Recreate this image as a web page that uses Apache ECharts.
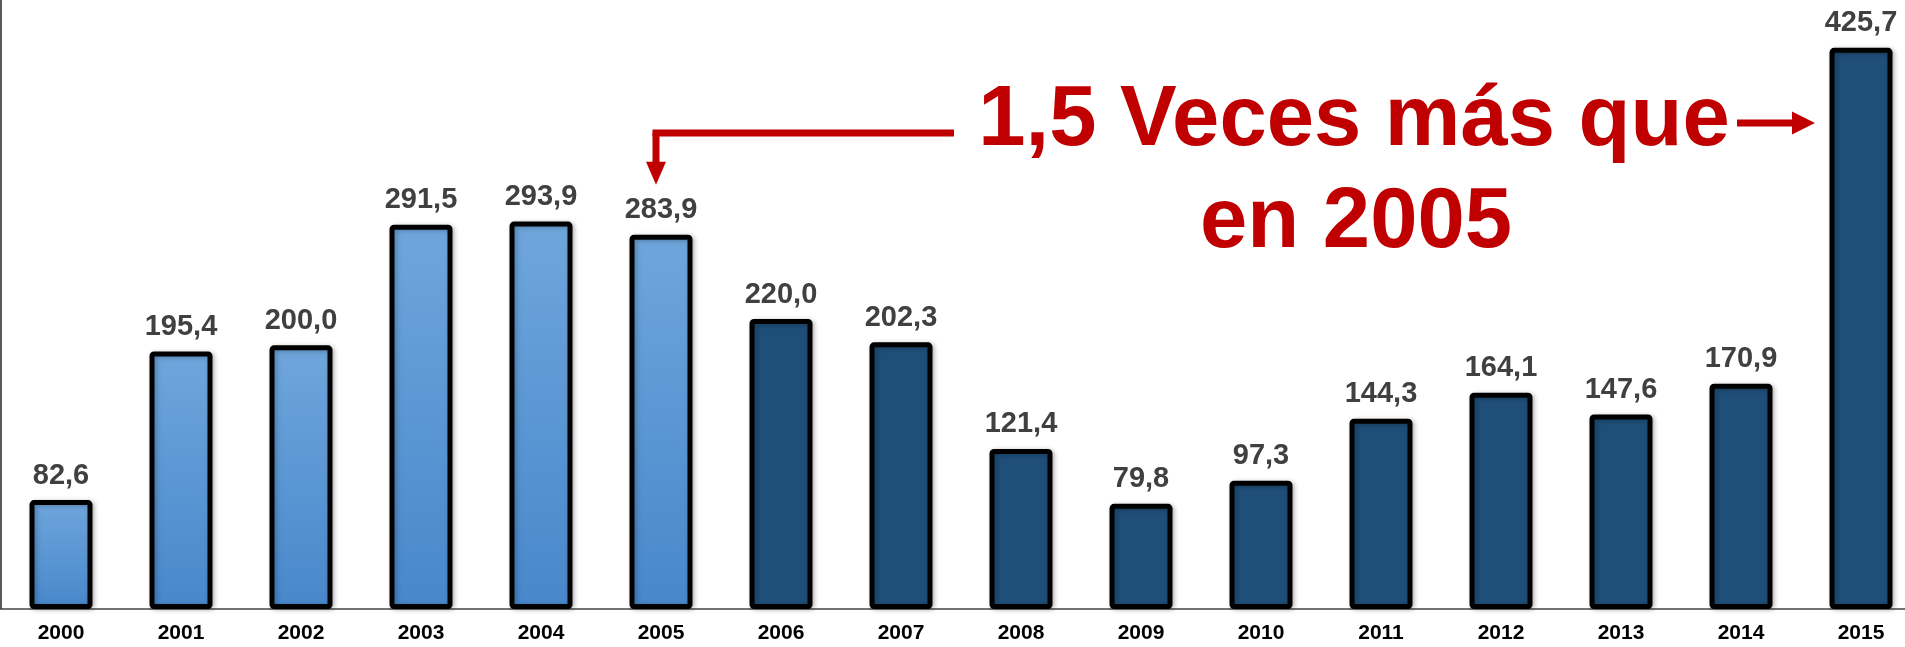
<!DOCTYPE html>
<html>
<head>
<meta charset="utf-8">
<script src="https://cdn.jsdelivr.net/npm/echarts@6/dist/echarts.min.js"></script>
<style>
html,body{margin:0;padding:0;background:#fff;}
#c{width:1905px;height:647px;}
</style>
</head>
<body>
<div id="c"></div>
<script>
// ---- data ----
const years = ['2000','2001','2002','2003','2004','2005','2006','2007','2008','2009','2010','2011','2012','2013','2014','2015'];
const values = [82.6,195.4,200.0,291.5,293.9,283.9,220.0,202.3,121.4,79.8,97.3,144.3,164.1,147.6,170.9,425.7];
const lastLightYear = '2005';
const noteLine1 = '1,5 Veces más que';
const noteLine2 = 'en 2005';
const noteFrom = '2005';
const noteTo = '2015';

// ---- style ----
const lightFill = new echarts.graphic.LinearGradient(0,0,0,1,[{offset:0,color:'#6fa6dc'},{offset:1,color:'#4787cb'}]);
const darkFill = '#1f4e78';
const red = '#c00000';

const chart = echarts.init(document.getElementById('c'), null, {renderer:'canvas'});

const lightIdx = years.indexOf(lastLightYear);
const barData = values.map((v,i)=>({
  value:v,
  itemStyle:{color: i<=lightIdx ? lightFill : darkFill}
}));

chart.setOption({
  animation:false,
  grid:{left:1,width:1920,top:0,bottom:38,containLabel:false,outerBoundsMode:'none'},
  xAxis:{
    type:'category',
    data:years,
    axisLine:{show:true,lineStyle:{color:'#444',width:1.5}},
    axisTick:{show:false},
    axisLabel:{color:'#000',fontFamily:'Liberation Sans, Arial, sans-serif',fontWeight:'bold',fontSize:21,margin:14,interval:0}
  },
  yAxis:{
    type:'value',min:0,max:462,
    axisLine:{show:true,lineStyle:{color:'#222',width:1.5}},
    axisLabel:{show:false},axisTick:{show:false},splitLine:{show:false}
  },
  series:[{
    type:'bar',
    data:barData,
    barWidth:63,
    itemStyle:{borderColor:'#000',borderWidth:5,borderRadius:2,shadowBlur:5,shadowColor:'rgba(0,0,0,0.25)',shadowOffsetX:2,shadowOffsetY:1},
    label:{
      show:true,position:'top',distance:10,
      color:'#404040',fontFamily:'Liberation Sans, Arial, sans-serif',fontWeight:'bold',fontSize:29,
      formatter:p=>p.value.toFixed(1).replace('.',',')
    }
  }]
});

// ---- annotation anchored to bars ----
const pFrom = chart.convertToPixel({xAxisIndex:0,yAxisIndex:0},[noteFrom, values[years.indexOf(noteFrom)]]);
const pTo = chart.convertToPixel({xAxisIndex:0,yAxisIndex:0},[noteTo, values[years.indexOf(noteTo)]]);

const lax = pFrom[0]-5;           // left arrow vertical x
const lay = 133;                  // left arrow horizontal y
const lTipY = pFrom[1]-50;        // left arrow tip
const rTipX = pTo[0]-46;          // right arrow tip
const ray = 123;

chart.setOption({
  graphic:[
    {type:'line',shape:{x1:lax-3.5,y1:lay,x2:954,y2:lay},style:{stroke:red,lineWidth:7}},
    {type:'line',shape:{x1:lax,y1:lay,x2:lax,y2:lTipY-22},style:{stroke:red,lineWidth:7}},
    {type:'polygon',shape:{points:[[lax-10,lTipY-23],[lax+10,lTipY-23],[lax,lTipY]]},style:{fill:red}},
    {type:'line',shape:{x1:1737,y1:ray,x2:rTipX-20,y2:ray},style:{stroke:red,lineWidth:7}},
    {type:'polygon',shape:{points:[[rTipX-23,ray-11.5],[rTipX-23,ray+11.5],[rTipX,ray]]},style:{fill:red}},
    {type:'text',x:1354,y:122,style:{text:noteLine1,fill:red,font:'bold 85px "Liberation Sans", Arial, sans-serif',textAlign:'center',textVerticalAlign:'middle'}},
    {type:'text',x:1356,y:224,style:{text:noteLine2,fill:red,font:'bold 85px "Liberation Sans", Arial, sans-serif',textAlign:'center',textVerticalAlign:'middle'}}
  ]
});
</script>
</body>
</html>
